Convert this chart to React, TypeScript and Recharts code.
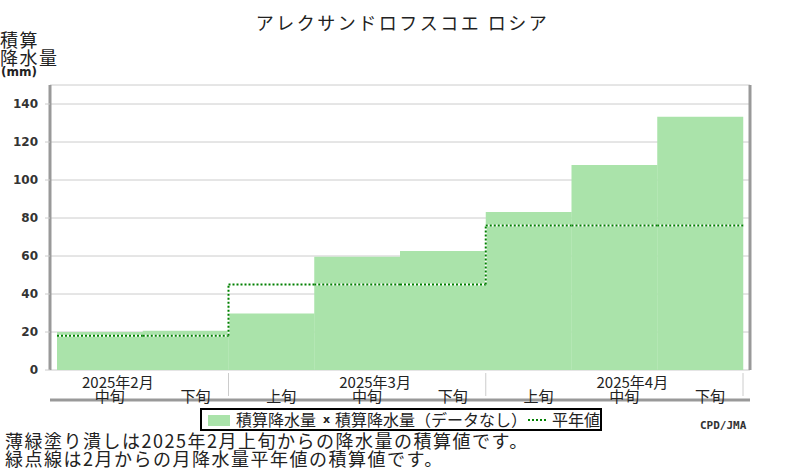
import { Bar, CartesianGrid, ComposedChart, XAxis, YAxis } from "recharts";

const decades = ["中旬", "下旬", "上旬", "中旬", "下旬", "上旬", "中旬", "下旬"];
const months = ["2025年2月", "2025年2月", "2025年3月", "2025年3月", "2025年3月", "2025年4月", "2025年4月", "2025年4月"];
const precip = [20.0, 20.7, 29.8, 59.6, 62.6, 83.2, 107.9, 133.3];
const normal = [18, 18, 45, 45, 45, 76, 76, 76];
const yTicks = [0, 20, 40, 60, 80, 100, 120, 140];

const data = decades.map((d, i) => ({
  key: `${months[i]}-${d}`,
  decade: d,
  month: months[i],
  precip: precip[i],
  normal: normal[i],
  prevNormal: i > 0 ? normal[i - 1] : normal[i],
}));

const JP = '"Noto Sans CJK JP", sans-serif';
const FILL = "#aae3aa";
const DOT = "#008000";

const DottedSeg = (p: { x1: number; y1: number; x2: number; y2: number }) => (
  <>
    <line {...p} stroke="#fff" strokeWidth={2} />
    <line {...p} stroke={DOT} strokeWidth={2} strokeDasharray="2 2" />
  </>
);

const NormalShape = (props: any) => {
  const { x, y, width, height, payload } = props;
  if (!payload || !height) return null;
  const unit = height / payload.normal;
  const bottom = y + height;
  const prevY = bottom - payload.prevNormal * unit;
  return (
    <g>
      {payload.prevNormal !== payload.normal && (
        <DottedSeg x1={x} y1={prevY} x2={x} y2={y} />
      )}
      <DottedSeg x1={x} y1={y} x2={x + width} y2={y} />
    </g>
  );
};

// tick y from recharts sits ~30px under the axis line here
const MonthTick = (props: any) => {
  const { x, y, payload, index } = props;
  const row = data[index];
  if (!row) return null;
  const half = payload.offset ?? 0;
  const lastOfMonth = index === data.length - 1 || data[index + 1].month !== row.month;
  return (
    <g>
      {row.decade === "中旬" && (
        <text x={x + 18} y={y - 12} textAnchor="middle" fontSize={15} fontFamily={JP} fill="#222">
          {row.month}
        </text>
      )}
      <text x={x + 10} y={y + 2} textAnchor="middle" fontSize={15} fontFamily={JP} fill="#222">
        {row.decade}
      </text>
      {lastOfMonth && (
        <line x1={x + half} y1={y - 27} x2={x + half} y2={y - 4} stroke="#ccc" strokeWidth={1} />
      )}
    </g>
  );
};

export default function App() {
  return (
    <div
      style={{
        position: "absolute",
        left: 0,
        top: 0,
        width: 800,
        height: 470,
        background: "#fff",
        fontFamily: JP,
        color: "#222",
      }}
    >
      <div style={{ position: "absolute", left: 0, width: 805, top: 9, textAlign: "center", fontSize: 18, letterSpacing: 2.5 }}>
        アレクサンドロフスコエ ロシア
      </div>
      <div style={{ position: "absolute", left: 0, top: 30, fontSize: 18, lineHeight: "18px", letterSpacing: 1.5 }}>
        積算
        <br />
        降水量
      </div>
      <div
        style={{
          position: "absolute",
          left: 1,
          top: 65,
          fontSize: 12,
          fontWeight: "bold",
          fontFamily: '"DejaVu Sans", sans-serif',
        }}
      >
        (mm)
      </div>

      <ComposedChart
        width={800}
        height={470}
        data={data}
        margin={{ top: 85, right: 0, left: 0, bottom: 60 }}
        barCategoryGap={0}
        barGap={0}
      >
        <CartesianGrid vertical={false} stroke="#ccc" />
        <XAxis
          dataKey="key"
          xAxisId="p"
          height={40}
          padding={{ left: 7, right: 7 }}
          axisLine={{ stroke: "#999", strokeWidth: 3 }}
          tickLine={false}
          tickSize={0}
          tickMargin={0}
          interval={0}
          tick={<MonthTick />}
        />
        <XAxis dataKey="key" xAxisId="n" hide padding={{ left: 7, right: 7 }} />
        <YAxis
          width={50}
          domain={[0, 150]}
          ticks={yTicks}
          allowDataOverflow
          axisLine={{ stroke: "#999", strokeWidth: 3 }}
          tickLine={{ stroke: "#ccc" }}
          tickSize={5}
          tickMargin={7}
          tick={{ fontSize: 12, fontWeight: "bold", fill: "#333", fontFamily: '"DejaVu Sans", sans-serif' }}
        />
        <YAxis
          yAxisId="r"
          orientation="right"
          width={50}
          domain={[0, 150]}
          tick={false}
          tickLine={false}
          axisLine={{ stroke: "#999", strokeWidth: 3 }}
        />
        <Bar dataKey="precip" xAxisId="p" fill={FILL} isAnimationActive={false} />
        <Bar dataKey="normal" xAxisId="n" shape={<NormalShape />} isAnimationActive={false} />
      </ComposedChart>

      <div
        style={{
          position: "absolute",
          left: 200,
          top: 408,
          width: 398,
          height: 19,
          border: "2px solid #000",
          fontSize: 16,
          lineHeight: "19px",
          whiteSpace: "nowrap",
        }}
      >
        <span style={{ position: "absolute", left: 6, top: 5, width: 22, height: 11, background: FILL }} />
        <span style={{ position: "absolute", left: 34, top: 0 }}>積算降水量</span>
        <span
          style={{
            position: "absolute",
            left: 121,
            top: 0,
            fontSize: 11,
            fontWeight: "bold",
            fontFamily: '"DejaVu Sans", sans-serif',
          }}
        >
          x
        </span>
        <span style={{ position: "absolute", left: 133, top: 0 }}>積算降水量（データなし）</span>
        <svg style={{ position: "absolute", left: 326, top: 8 }} width={18} height={4}>
          <DottedSeg x1={0} y1={2} x2={18} y2={2} />
        </svg>
        <span style={{ position: "absolute", left: 350, top: 0 }}>平年値</span>
      </div>

      <div
        style={{
          position: "absolute",
          left: 700,
          top: 419,
          fontSize: 11,
          fontWeight: "bold",
          color: "#333",
          fontFamily: '"DejaVu Sans Mono", monospace',
        }}
      >
        CPD/JMA
      </div>

      <div
        style={{
          position: "absolute",
          left: 5,
          top: 431,
          fontSize: 18,
          lineHeight: "18px",
          letterSpacing: 1.5,
          whiteSpace: "nowrap",
        }}
      >
        薄緑塗り潰しは2025年2月上旬からの降水量の積算値です。
        <br />
        緑点線は2月からの月降水量平年値の積算値です。
      </div>
    </div>
  );
}
